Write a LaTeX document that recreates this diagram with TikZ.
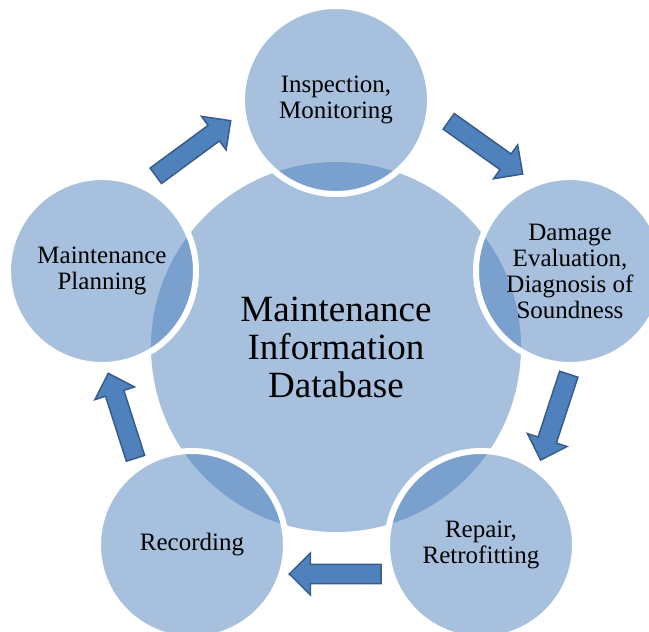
\documentclass[tikz,border=0pt]{standalone}
\usepackage{fontspec}
\setmainfont{Liberation Serif}
\usetikzlibrary{calc}
\definecolor{accent}{RGB}{79,129,189}
\definecolor{accentdark}{RGB}{56,93,138}
\tikzset{
  stage/.style={circle, minimum size=188pt, inner sep=0pt, fill=accent, fill opacity=0.5,
    text opacity=1, draw=white, draw opacity=1, line width=6pt, align=center,
    font=\fontsize{25}{26}\selectfont},
  hub/.style={circle, minimum size=370pt, inner sep=0pt, fill=accent, fill opacity=0.5,
    text opacity=1, align=center, font=\fontsize{37}{38}\selectfont},
  blockarrow/.style={fill=accent, draw=accentdark, line width=1.5pt, line join=miter}
}
\newcommand\bkarrow[3]{% name, tail, tip
  \coordinate (#1h) at ($(#3)!21pt!(#2)$);
  \draw[blockarrow] ($(#2)!9.6pt!90:(#3)$) -- ($(#1h)!9.6pt!90:(#3)$) -- ($(#1h)!20.8pt!90:(#3)$)
    -- (#3) -- ($(#1h)!20.8pt!-90:(#3)$) -- ($(#1h)!9.6pt!-90:(#3)$) -- ($(#2)!9.6pt!-90:(#3)$) -- cycle;
}
\begin{document}
\begin{tikzpicture}[x=1pt,y=-1pt]
\useasboundingbox (0,0) rectangle (649,632);
\node[hub] (db) at (336,347) {Maintenance\\Information\\Database};
\node[stage] (insp) at (336,100) {Inspection,\\Monitoring};
\node[stage] (dmg) at (570,271) {Damage\\Evaluation,\\Diagnosis of\\Soundness};
\node[stage] (rep) at (481,545) {Repair,\\Retrofitting};
\node[stage] (rec) at (192,545) {Recording};
\node[stage] (plan) at (102,271) {Maintenance\\Planning};
\coordinate (a1s) at (155.8,175.8); \coordinate (a1e) at (230.7,120.7);
\coordinate (a2s) at (448.7,121.3); \coordinate (a2e) at (522.7,174);
\coordinate (a3s) at (568.8,374.2); \coordinate (a3e) at (540.7,460);
\coordinate (a4s) at (381,574);     \coordinate (a4e) at (289.3,574);
\coordinate (a5s) at (135.5,458.3); \coordinate (a5e) at (108.3,373.3);
\bkarrow{a1}{a1s}{a1e}
\bkarrow{a2}{a2s}{a2e}
\bkarrow{a3}{a3s}{a3e}
\bkarrow{a4}{a4s}{a4e}
\bkarrow{a5}{a5s}{a5e}
\end{tikzpicture}
\end{document}
